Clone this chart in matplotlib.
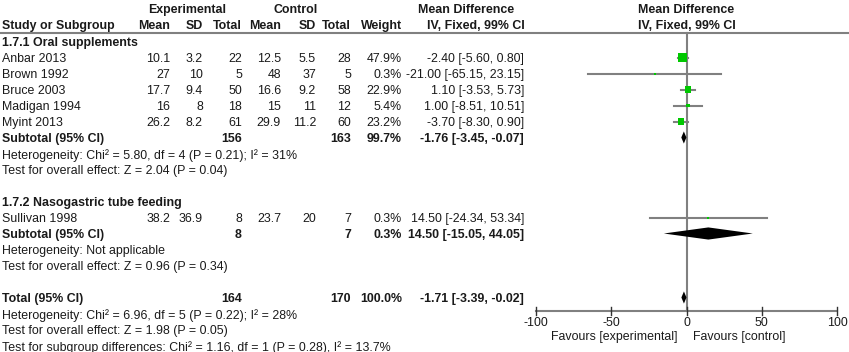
import numpy as np
import matplotlib
matplotlib.use("Agg")
import matplotlib.pyplot as plt
from matplotlib.patches import Polygon

plt.rcParams['font.family'] = ['Liberation Sans', 'DejaVu Sans']

# data
studies1 = ['Anbar 2013', 'Brown 1992', 'Bruce 2003', 'Madigan 1994', 'Myint 2013']
studies2 = ['Sullivan 1998']
exp_mean = [10.1, 27, 17.7, 16, 26.2, 38.2]
exp_sd = [3.2, 10, 9.4, 8, 8.2, 36.9]
exp_n = [22, 5, 50, 18, 61, 8]
ctl_mean = [12.5, 48, 16.6, 15, 29.9, 23.7]
ctl_sd = [5.5, 37, 9.2, 11, 11.2, 20]
ctl_n = [28, 5, 58, 12, 60, 7]
weight = [47.9, 0.3, 22.9, 5.4, 23.2, 0.3]
md = [-2.40, -21.00, 1.10, 1.00, -3.70, 14.50]
md_lo = [-5.60, -65.15, -3.53, -8.51, -8.30, -24.34]
md_hi = [0.80, 23.15, 5.73, 10.51, 0.90, 53.34]

# subtotals / total
pooled_labels = ['Subtotal (95% CI)', 'Subtotal (95% CI)', 'Total (95% CI)']
pooled_exp_n = [156, 8, 164]
pooled_ctl_n = [163, 7, 170]
pooled_weight = [99.7, 0.3, 100.0]
pooled_md = [-1.76, 14.50, -1.71]
pooled_lo = [-3.45, -15.05, -3.39]
pooled_hi = [-0.07, 44.05, -0.02]

groups = ['1.7.1 Oral supplements', '1.7.2 Nasogastric tube feeding']
notes1 = ['Heterogeneity: Chi² = 5.80, df = 4 (P = 0.21); I² = 31%',
          'Test for overall effect: Z = 2.04 (P = 0.04)']
notes2 = ['Heterogeneity: Not applicable',
          'Test for overall effect: Z = 0.96 (P = 0.34)']
notes_tot = ['Heterogeneity: Chi² = 6.96, df = 5 (P = 0.22); I² = 28%',
             'Test for overall effect: Z = 1.98 (P = 0.05)',
             'Test for subgroup differences: Chi² = 1.16, df = 1 (P = 0.28), I² = 13.7%']
xticks = [-100, -50, 0, 50, 100]

# row layout
study_rows = [1, 2, 3, 4, 5, 11]
pooled_rows = [6, 12, 16]
group_rows = [0, 10]

W, H = 849, 352
fig = plt.figure(figsize=(W / 100, H / 100), dpi=100)
y0, pitch = 41.5, 16.0
ylim = ((H - y0) / pitch, -y0 / pitch)

ax = fig.add_axes([0, 0, 1, 1])
ax.set_xlim(0, W)
ax.set_ylim(*ylim)
ax.axis('off')

# forest axes: -100 at 536 px, 100 at 837 px
px0, px1 = 536, 837
sc = (px1 - px0) / 200
zero = (px0 + px1) / 2
axf = fig.add_axes([0, 0, 1, 1])
axf.set_xlim(-zero / sc, (W - zero) / sc)
axf.set_ylim(*ylim)
axf.axis('off')
axf.patch.set_alpha(0)

fs = 8.9
tc = '#1a1a1a'
gray = '#808080'
toff = 0.1
line_row = -0.53


def txt(x, r, s, ha='right', bold=False):
    ax.text(x, r + toff, s, ha=ha, va='center', fontsize=fs, color=tc,
            fontweight='bold' if bold else 'normal')


# headers
cols = [170, 203, 242, 281, 316, 351, 402]
txt(187, -2.05, 'Experimental', ha='center', bold=True)
txt(296, -2.05, 'Control', ha='center', bold=True)
txt(466, -2.05, 'Mean Difference', ha='center', bold=True)
txt(zero, -2.05, 'Mean Difference', ha='center', bold=True)
txt(2, -1.05, 'Study or Subgroup', ha='left', bold=True)
for x, s in zip(cols, ['Mean', 'SD', 'Total', 'Mean', 'SD', 'Total', 'Weight']):
    txt(x, -1.05, s, bold=True)
txt(476, -1.05, 'IV, Fixed, 99% CI', ha='center', bold=True)
txt(zero, -1.05, 'IV, Fixed, 99% CI', ha='center', bold=True)
ax.axhline(line_row, color=gray, lw=1.5)

# group headings
for r, g in zip(group_rows, groups):
    txt(2, r, g, ha='left', bold=True)

# study rows
names = studies1 + studies2
for i, r in enumerate(study_rows):
    txt(2, r, names[i], ha='left')
    vals = [f'{exp_mean[i]:g}', f'{exp_sd[i]:g}', f'{exp_n[i]}',
            f'{ctl_mean[i]:g}', f'{ctl_sd[i]:g}', f'{ctl_n[i]}', f'{weight[i]:.1f}%']
    for x, s in zip(cols, vals):
        txt(x, r, s)
    txt(524, r, f'{md[i]:.2f} [{md_lo[i]:.2f}, {md_hi[i]:.2f}]')

# pooled rows
for j, r in enumerate(pooled_rows):
    txt(2, r, pooled_labels[j], ha='left', bold=True)
    txt(cols[2], r, str(pooled_exp_n[j]), bold=True)
    txt(cols[5], r, str(pooled_ctl_n[j]), bold=True)
    txt(cols[6], r, f'{pooled_weight[j]:.1f}%', bold=True)
    txt(524, r, f'{pooled_md[j]:.2f} [{pooled_lo[j]:.2f}, {pooled_hi[j]:.2f}]', bold=True)

for k, s in enumerate(notes1):
    txt(2, 7 + k, s, ha='left')
for k, s in enumerate(notes2):
    txt(2, 13 + k, s, ha='left')
for k, s in enumerate(notes_tot):
    txt(2, 17 + k, s, ha='left')

# forest plot
ax_row = (311 - y0) / pitch
axf.plot([0, 0], [line_row, ax_row], color=gray, lw=1.5, zorder=1)
for i, r in enumerate(study_rows):
    axf.plot([md_lo[i], md_hi[i]], [r, r], color=gray, lw=1.5, zorder=2)
side_px = np.maximum(2, 1.3 * np.sqrt(weight))
axf.scatter(md, study_rows, s=(side_px * 0.72) ** 2, marker='s', color='#00c800',
            linewidths=0, zorder=3)
hh = 0.38
for j, r in enumerate(pooled_rows):
    axf.add_patch(Polygon([(pooled_lo[j], r), (pooled_md[j], r - hh), (pooled_hi[j], r),
                           (pooled_md[j], r + hh)], closed=True, color='black', lw=0, zorder=3))

axf.plot([xticks[0], xticks[-1]], [ax_row, ax_row], color=gray, lw=1.5)
tk = 0.22
for t in xticks:
    axf.plot([t, t], [ax_row - tk, ax_row + tk], color='#333333', lw=1)
    axf.text(t, ax_row + 0.75, f'{t}', ha='center', va='center', fontsize=fs, color=tc)
axf.text(-5.8, ax_row + 1.63, 'Favours [experimental]', ha='right', va='center', fontsize=fs, color=tc)
axf.text(4.3, ax_row + 1.63, 'Favours [control]', ha='left', va='center', fontsize=fs, color=tc)

fig.savefig('out.png', dpi=100)
